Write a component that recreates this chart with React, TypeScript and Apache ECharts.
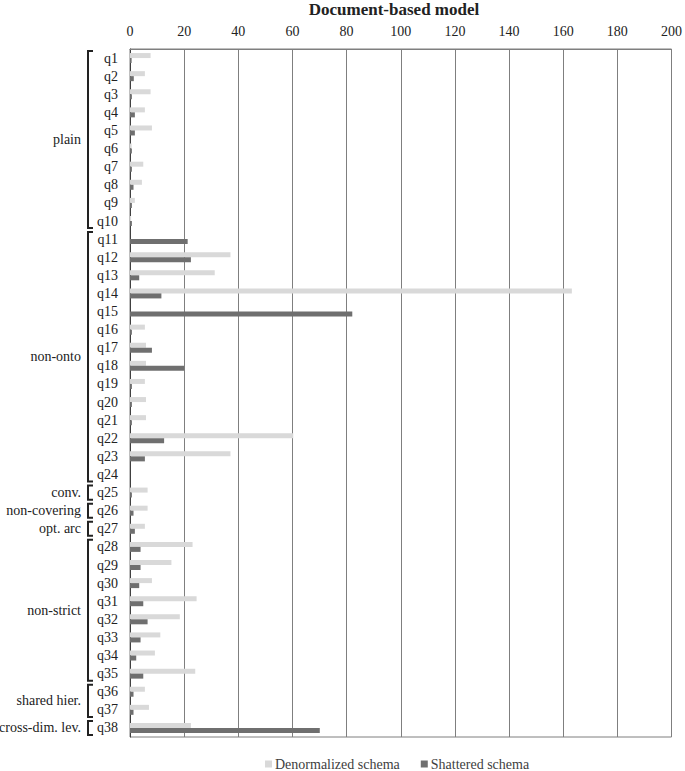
import React, { useEffect, useRef } from "react";
import * as echarts from "echarts";

const categories = [
  "q1", "q2", "q3", "q4", "q5", "q6", "q7", "q8", "q9", "q10",
  "q11", "q12", "q13", "q14", "q15", "q16", "q17", "q18", "q19", "q20",
  "q21", "q22", "q23", "q24", "q25", "q26", "q27", "q28", "q29", "q30",
  "q31", "q32", "q33", "q34", "q35", "q36", "q37", "q38",
];

const denormalized = [
  7.6, 5.5, 7.6, 5.5, 8.1, 0.6, 4.9, 4.4, 1.8, 0.4,
  0, 37.1, 31.3, 163.2, 0, 5.5, 5.9, 5.9, 5.5, 5.9,
  5.9, 60.3, 37.1, 0, 6.5, 6.5, 5.5, 23.1, 15.3, 8.1,
  24.6, 18.4, 11.2, 9.2, 24.1, 5.5, 7.0, 22.5,
];

const shattered = [
  0.6, 1.4, 0.7, 1.8, 1.8, 0.7, 0.7, 1.3, 0.7, 0.7,
  21.3, 22.5, 3.4, 11.6, 82.1, 0.7, 8.1, 20.0, 0.7, 0.7,
  0.7, 12.6, 5.5, 0, 0.7, 1.3, 1.8, 3.9, 3.9, 3.4,
  4.9, 6.5, 3.9, 2.3, 4.9, 1.3, 1.3, 70.1,
];

const groupLabels = ["plain", "non-onto", "conv.", "non-covering", "opt. arc", "non-strict", "shared hier.", "cross-dim. lev."];
const groupStart = [0, 10, 24, 25, 26, 27, 35, 37];
const groupEnd = [9, 23, 24, 25, 26, 34, 36, 37];

const FONT = "Liberation Serif";

export default function App() {
  const ref = useRef<HTMLDivElement>(null);
  useEffect(() => {
    document.body.style.margin = "0";
    const chart = echarts.init(ref.current as HTMLDivElement, null, { renderer: "svg" });
    const option: any = {
      animation: false,
      grid: {
        left: 130, right: 12, top: 49, bottom: 34,
        show: true, borderColor: "#7f7f7f", borderWidth: 1,
      },
      legend: {
        top: 757,
        left: 265,
        padding: 0,
        itemWidth: 7,
        itemHeight: 7,
        itemGap: 21,
        icon: "rect",
        textStyle: { fontFamily: FONT, fontSize: 14, color: "#404040", padding: [0, 0, 0, -2] },
        data: ["Denormalized schema", "Shattered schema"],
      },
      xAxis: {
        type: "value",
        position: "top",
        min: 0,
        max: 200,
        interval: 20,
        axisLine: { show: true, lineStyle: { color: "#7f7f7f" } },
        axisTick: { show: false },
        axisLabel: { fontFamily: FONT, fontSize: 14, color: "#222", margin: 11 },
        splitLine: { show: true, lineStyle: { color: "#7f7f7f", width: 1 } },
      },
      yAxis: {
        type: "category",
        data: categories,
        inverse: true,
        axisLine: { show: true, lineStyle: { color: "#404040" } },
        axisTick: { show: false },
        axisLabel: { fontFamily: FONT, fontSize: 14, color: "#222", margin: 12, interval: 0 },
      },
      series: [
        {
          name: "Denormalized schema",
          type: "bar",
          data: denormalized,
          barWidth: 5,
          barGap: "0%",
          itemStyle: { color: "#d9d9d9" },
        },
        {
          name: "Shattered schema",
          type: "bar",
          data: shattered,
          barWidth: 5,
          barGap: "0%",
          itemStyle: { color: "#6f6f6f" },
        },
      ],
    };
    chart.setOption(option);

    const toY = (i: number) => chart.convertToPixel({ yAxisIndex: 0 }, categories[i]) as number;
    const band = toY(1) - toY(0);
    const elements: any[] = [
      {
        type: "text",
        x: 394,
        y: 9,
        style: {
          text: "Document-based model",
          fontFamily: FONT,
          fontSize: 17,
          fontWeight: "bold",
          fill: "#222",
          textAlign: "center",
          textVerticalAlign: "middle",
        },
      },
    ];
    groupLabels.forEach((lab, i) => {
      const top = toY(groupStart[i]) - band / 2 + 2;
      const bot = toY(groupEnd[i]) + band / 2 - 2;
      elements.push({
        type: "polyline",
        shape: { points: [[93, top], [88, top], [88, bot], [93, bot]] },
        style: { stroke: "#222", lineWidth: 2, fill: null },
      });
      elements.push({
        type: "text",
        x: 81,
        y: (top + bot) / 2,
        style: {
          text: lab,
          fontFamily: FONT,
          fontSize: 14,
          fill: "#222",
          textAlign: "right",
          textVerticalAlign: "middle",
        },
      });
    });
    chart.setOption({ graphic: elements });
    return () => chart.dispose();
  }, []);
  return <div ref={ref} style={{ width: 685, height: 771 }} />;
}
